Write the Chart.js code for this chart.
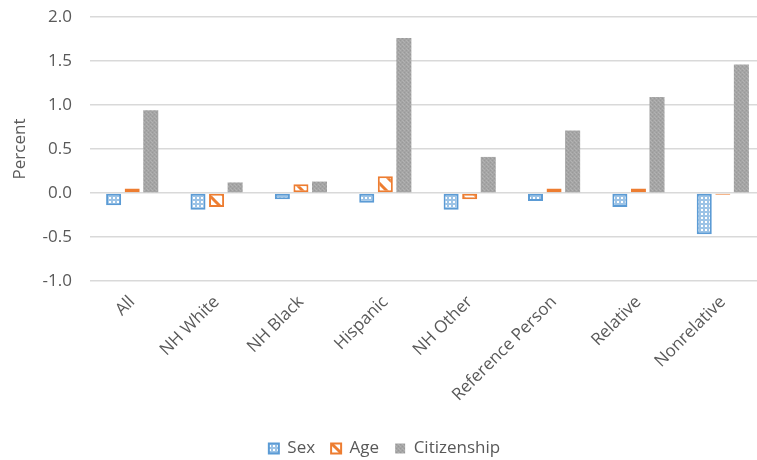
<!DOCTYPE html>
<html>
<head>
<meta charset="utf-8">
<script src="https://cdn.jsdelivr.net/npm/chart.js@4.4.1/dist/chart.umd.min.js"></script>
<style>
    html, body { margin: 0; padding: 0; background: #fff; overflow: hidden; }
    #wrap { width: 772px; height: 460px; }
</style>
</head>
<body>
<div id="wrap"><canvas id="chart" width="772" height="460"></canvas></div>
<script>
// groups along the x axis
const categories = ['All', 'NH White', 'NH Black', 'Hispanic', 'NH Other', 'Reference Person', 'Relative', 'Nonrelative'];

// percent differences per group
const sexValues = [-0.14, -0.19, -0.07, -0.11, -0.19, -0.09, -0.16, -0.47];
const ageValues = [0.05, -0.16, 0.10, 0.19, -0.07, 0.05, 0.05, -0.02];
const citizenshipValues = [0.94, 0.12, 0.13, 1.76, 0.41, 0.71, 1.09, 1.46];

const yTicks = [-1.0, -0.5, 0.0, 0.5, 1.0, 1.5, 2.0];

const textColor = '#595959';
const fontFamily = '"Open Sans", "DejaVu Sans", sans-serif';
const fontSize = 17;

// small repeating tiles for the hatched fills
function makePattern(w, h, draw) {
    const c = document.createElement('canvas');
    c.width = w; c.height = h;
    const g = c.getContext('2d');
    draw(g, w, h);
    return g.createPattern(c, 'repeat');
}

const dotFill = makePattern(4, 4, (g, w, h) => {
    g.fillStyle = '#9cc3e6';
    g.fillRect(0, 0, w, h);
    g.fillStyle = '#ffffff';
    g.fillRect(1, 1, 2, 2);
});

const diagFill = makePattern(14, 14, (g, w, h) => {
    g.fillStyle = '#ffffff';
    g.fillRect(0, 0, w, h);
    g.strokeStyle = '#ed7d31';
    g.lineWidth = 3;
    [-w, 0, w].forEach(off => {
        g.beginPath();
        g.moveTo(off - 1, -1);
        g.lineTo(off + w + 1, h + 1);
        g.stroke();
    });
});

const greyFill = makePattern(4, 4, (g, w, h) => {
    g.fillStyle = '#a5a5a5';
    g.fillRect(0, 0, w, h);
    g.fillStyle = '#999999';
    g.fillRect(0, 0, 1, 1);
    g.fillRect(2, 2, 1, 1);
    g.fillStyle = '#b2b2b2';
    g.fillRect(2, 0, 1, 1);
    g.fillRect(0, 2, 1, 1);
    g.fillRect(3, 1, 1, 1);
});

const ctx = document.getElementById('chart').getContext('2d');

new Chart(ctx, {
    type: 'bar',
    data: {
        labels: categories,
        datasets: [
            { label: 'Sex', data: sexValues, backgroundColor: dotFill, borderColor: '#5b9bd5', borderWidth: 2, borderSkipped: false },
            { label: 'Age', data: ageValues, backgroundColor: diagFill, borderColor: '#ed7d31', borderWidth: 2, borderSkipped: false },
            { label: 'Citizenship', data: citizenshipValues, backgroundColor: greyFill, borderWidth: 0 }
        ]
    },
    options: {
        responsive: false,
        animation: false,
        categoryPercentage: 0.66,
        barPercentage: 0.81,
        layout: { padding: { left: 4, right: 7, top: 0, bottom: -7 } },
        plugins: {
            tooltip: { enabled: false },
            legend: {
                position: 'bottom',
                labels: {
                    boxWidth: 10,
                    boxHeight: 10,
                    padding: 16,
                    color: textColor,
                    font: { family: fontFamily, size: fontSize }
                }
            }
        },
        scales: {
            x: {
                grid: { display: false },
                border: { display: false },
                ticks: {
                    color: textColor,
                    font: { family: fontFamily, size: fontSize },
                    minRotation: 45,
                    maxRotation: 45,
                    padding: 3
                },
                afterFit: (scale) => { scale.height = 143; }
            },
            y: {
                min: yTicks[0],
                max: yTicks[yTicks.length - 1],
                afterBuildTicks: (scale) => { scale.ticks = yTicks.map(v => ({ value: v })); },
                grid: { color: '#d9d9d9', lineWidth: 1.5, drawTicks: false },
                border: { display: false },
                ticks: {
                    color: textColor,
                    font: { family: fontFamily, size: fontSize },
                    padding: 18,
                    callback: (v) => v.toFixed(1)
                },
                title: {
                    display: true,
                    text: 'Percent',
                    color: textColor,
                    font: { family: fontFamily, size: fontSize },
                    padding: { top: 6, bottom: 0 }
                },
                afterFit: (scale) => {
                    scale.width = 86;
                    scale.paddingTop = 17;
                    scale.paddingBottom = 0;
                }
            }
        }
    }
});
</script>
</body>
</html>
